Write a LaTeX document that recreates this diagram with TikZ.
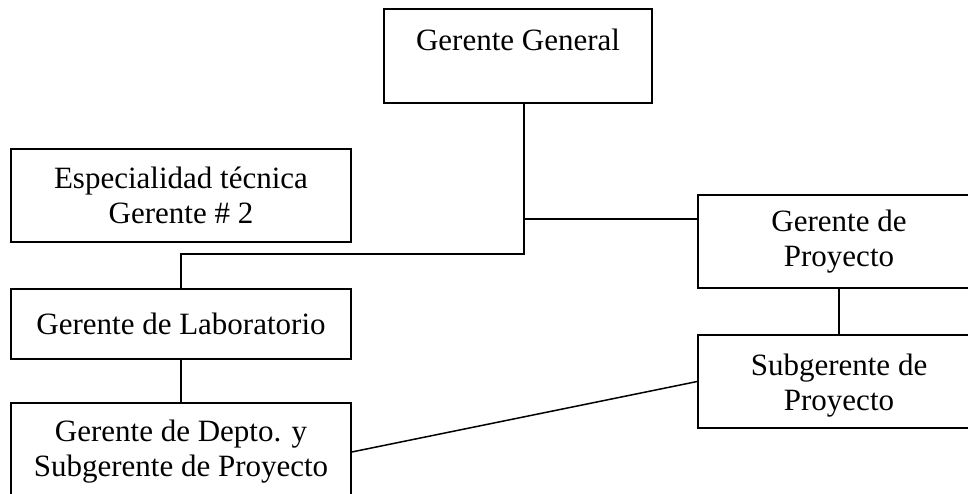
\documentclass[tikz,border=0pt]{standalone}
\usepackage{fontspec}
\setmainfont{Liberation Serif}
\usetikzlibrary{calc}
\begin{document}
\begin{tikzpicture}[x=1pt,y=-1pt,
  box/.style={draw, line width=1.5pt, rectangle, inner sep=0pt, align=center,
    font=\fontsize{31}{35}\selectfont},
  txt/.style={inner sep=0pt, anchor=mid, align=center, font=\fontsize{31}{35}\selectfont},
  link/.style={line width=1.5pt}]
\clip (0,0) rectangle (968,494);
% boxes of the organisation chart
\node[box, minimum width=268, minimum height=94] (gg) at (518,56) {};
\node[txt] (ggt) at ($(gg.north)+(0,40)$) {Gerente General};
\node[box, minimum width=340, minimum height=93] (esp) at (181,195.5)
  {Especialidad técnica\\Gerente \# 2};
\node[box, minimum width=282, minimum height=93] (gdp) at (839,241.5)
  {Gerente de\\Proyecto};
\node[box, minimum width=340, minimum height=70] (lab) at (181,324)
  {Gerente de Laboratorio};
\node[box, minimum width=282, minimum height=93] (sub) at (839,381.5) {};
\node[txt, anchor=center] (subt) at ($(sub.center)+(0,4)$)
  {Subgerente de\\Proyecto};
\node[box, minimum width=340, minimum height=98] (dep) at (181,452)
  {Gerente de Depto. y\\Subgerente de Proyecto};
% connectors
\coordinate (trunk) at (524,254);
\coordinate (fork) at (524,219);
\draw[link] (gg.south -| trunk) -- (trunk) -| (lab.north);
\draw[link] (fork) -- (fork -| gdp.west);
\draw[link] (lab.south) -- (dep.north);
\draw[link] (gdp.south) -- (sub.north);
\draw[link] (dep.east) -- (sub.west);
\end{tikzpicture}
\end{document}
